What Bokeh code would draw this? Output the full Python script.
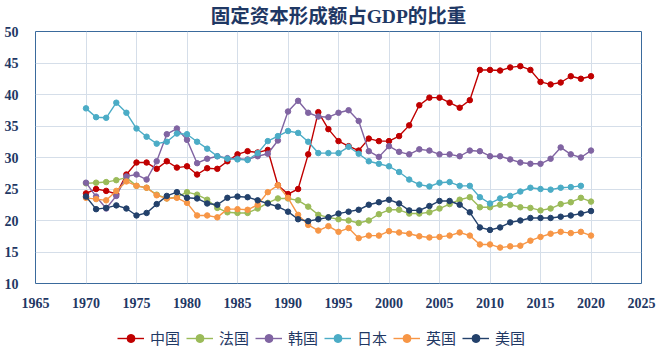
from bokeh.plotting import figure
from bokeh.layouts import column
from bokeh.models import FixedTicker, Legend, LegendItem, Range1d
from bokeh.embed import file_html
from bokeh.resources import INLINE

years = list(range(1970, 2021))

china = [24.3, 25.0, 24.7, 24.2, 27.3, 29.2, 29.2, 28.2, 29.4, 28.4,
         28.6, 27.3, 28.3, 28.2, 29.4, 30.5, 31.0, 30.8, 31.2, 25.6,
         24.2, 25.0, 30.5, 37.2, 34.5, 32.6, 31.8, 31.1, 33.0, 32.6,
         32.6, 33.4, 35.1, 38.3, 39.5, 39.5, 38.7, 37.9, 39.1, 43.9,
         43.9, 43.8, 44.3, 44.5, 43.9, 42.0, 41.6, 41.9, 42.9, 42.5, 42.9]

france = [25.9, 26.0, 26.1, 26.4, 26.8, 25.5, 25.2, 24.1, 23.5, 23.7,
          24.5, 24.1, 23.3, 22.0, 21.3, 21.2, 21.2, 21.9, 22.8, 23.5,
          23.5, 23.2, 22.2, 20.9, 20.5, 20.2, 20.0, 19.6, 20.0, 21.0,
          21.7, 21.7, 21.1, 21.1, 21.3, 21.9, 22.6, 23.3, 23.7, 22.1,
          22.1, 22.5, 22.5, 22.1, 22.0, 21.6, 21.9, 22.6, 22.9, 23.6, 23.0]

korea = [26.0, 23.8, 21.9, 23.9, 27.0, 27.3, 26.5, 29.4, 33.7, 34.6,
         32.8, 29.1, 29.8, 30.2, 29.9, 29.8, 29.7, 30.2, 30.6, 32.7,
         37.3, 39.0, 37.1, 36.5, 36.4, 37.1, 37.5, 35.8, 31.0, 30.1,
         31.8, 30.9, 30.5, 31.3, 31.1, 30.5, 30.5, 30.2, 31.1, 31.0,
         30.2, 30.2, 29.7, 29.2, 29.0, 29.0, 29.8, 31.6, 30.5, 30.0, 31.1]

japan = [37.8, 36.4, 36.3, 38.7, 37.1, 34.6, 33.3, 32.2, 32.5, 33.8,
         33.7, 32.5, 31.4, 30.2, 29.8, 29.7, 29.6, 30.7, 32.6, 33.4,
         34.2, 33.9, 32.5, 30.7, 30.7, 30.7, 31.7, 30.6, 29.4, 29.0,
         28.6, 27.7, 26.5, 25.7, 25.4, 26.0, 26.1, 25.5, 25.5, 23.7,
         22.7, 23.5, 23.9, 24.6, 25.2, 25.0, 24.9, 25.2, 25.3, 25.5]

uk = [23.6, 23.4, 23.2, 24.7, 26.2, 25.5, 25.2, 24.0, 23.5, 23.6,
      22.8, 20.8, 20.8, 20.5, 21.8, 21.8, 21.7, 22.5, 24.5, 25.6,
      23.6, 20.9, 19.3, 18.4, 19.1, 18.2, 18.8, 17.2, 17.6, 17.6,
      18.3, 18.1, 17.9, 17.5, 17.3, 17.4, 17.6, 18.1, 17.6, 16.2,
      16.2, 15.7, 15.9, 16.0, 16.8, 17.4, 17.9, 18.2, 18.0, 18.2, 17.6]

usa = [23.8, 21.8, 22.0, 22.4, 21.9, 20.8, 21.2, 22.6, 23.9, 24.5,
       23.6, 23.5, 22.7, 22.5, 23.6, 23.8, 23.7, 23.2, 22.7, 22.2,
       21.4, 20.2, 19.9, 20.2, 20.5, 21.1, 21.4, 21.7, 22.5, 22.9,
       23.3, 22.7, 21.6, 21.6, 22.3, 23.1, 23.1, 22.5, 21.3, 18.9,
       18.5, 18.9, 19.7, 20.0, 20.4, 20.4, 20.4, 20.6, 20.8, 21.1, 21.5]

names = ["中国", "法国", "韩国", "日本", "英国", "美国"]
values = [china, france, korea, japan, uk, usa]
colors = ["#C00000", "#9BBB59", "#8064A2", "#4BACC6", "#F79646", "#23416B"]

x_ticks = list(range(1965, 2026, 5))
y_ticks = list(range(10, 51, 5))

NAVY = "#1F3864"

p = figure(width=658, height=320, output_backend="svg", toolbar_location=None,
           x_range=Range1d(1965, 2025), y_range=Range1d(10, 50),
           min_border_left=35, min_border_right=17,
           min_border_top=31, min_border_bottom=37)

p.title.text = "固定资本形成额占GDP的比重"
p.title.align = "center"
p.title.vertical_align = "top"
p.title.text_font = "Liberation Serif, Noto Sans CJK SC"
p.title.text_font_style = "bold"
p.title.text_font_size = "19.5px"
p.title.text_color = NAVY
p.title.standoff = 6

p.outline_line_color = "#3A6A9C"
p.outline_line_width = 1
p.background_fill_color = "white"
p.border_fill_color = "white"

for ax in (p.xaxis[0], p.yaxis[0]):
    ax.axis_line_color = None
    ax.major_tick_line_color = None
    ax.minor_tick_line_color = None
    ax.major_label_text_font = "Liberation Serif"
    ax.major_label_text_font_style = "bold"
    ax.major_label_text_font_size = "14px"
    ax.major_label_text_color = NAVY

p.xaxis.ticker = FixedTicker(ticks=x_ticks)
p.yaxis.ticker = FixedTicker(ticks=y_ticks)
p.xaxis.major_label_standoff = 8
p.yaxis.major_label_standoff = 11

p.xgrid.ticker = FixedTicker(ticks=x_ticks)
p.ygrid.ticker = FixedTicker(ticks=y_ticks)
p.grid.grid_line_color = "#D5DEE9"
p.grid.grid_line_width = 1

for name, vals, col in zip(names, values, colors):
    xs = years[:len(vals)]
    p.line(xs, vals, line_color=col, line_width=1.4)
    p.scatter(xs, vals, size=5.5, fill_color=col, line_color=col)

# legend strip below the chart (series drawn off-range so only legend glyphs show)
lg = figure(width=658, height=36, output_backend="svg", toolbar_location=None,
            x_range=Range1d(0, 1), y_range=Range1d(0, 1),
            min_border=0, min_border_left=0, min_border_right=0,
            min_border_top=0, min_border_bottom=0)
lg.axis.visible = False
lg.grid.visible = False
lg.outline_line_color = None
lg.background_fill_color = "white"
lg.border_fill_color = "white"

items = []
for name, vals, col in zip(names, values, colors):
    xs = years[:len(vals)]
    lr = lg.line(xs, vals, line_color=col, line_width=1.4)
    sr = lg.scatter(xs, vals, size=5, fill_color=col, line_color=col)
    items.append(LegendItem(label=name, renderers=[lr, sr]))

legend = Legend(items=items, orientation="horizontal", location=(82, 8),
                glyph_width=27, glyph_height=20, label_standoff=6, spacing=6,
                padding=0, margin=0, border_line_color=None,
                background_fill_alpha=0,
                label_text_font="Noto Sans CJK SC", label_text_font_size="15px",
                label_text_color=NAVY)
lg.add_layout(legend, "center")

layout = column(p, lg, spacing=0)
open("out.html", "w").write(file_html(layout, INLINE))
